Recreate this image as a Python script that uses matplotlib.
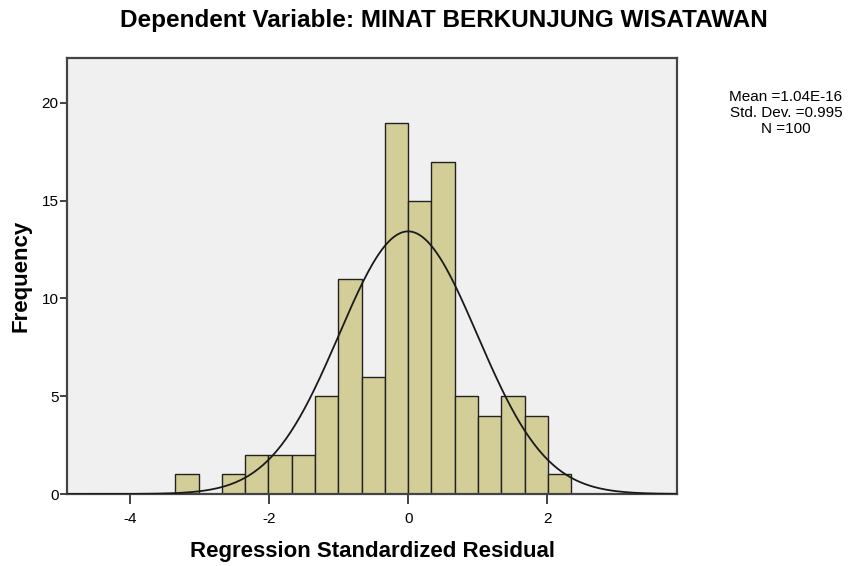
import numpy as np
import matplotlib
matplotlib.use("Agg")
import matplotlib.pyplot as plt

# frequency counts
bin_start = -3.35
bin_width = 0.335
counts = [1, 0, 1, 2, 2, 2, 5, 11, 6, 19, 15, 17, 5, 4, 5, 4, 1]
mean_val = 1.04e-16
std_val = 0.995
n_obs = 100
xticks = [-4, -2, 0, 2]
yticks = [0, 5, 10, 15, 20]

plt.rcParams['font.family'] = ['Liberation Sans', 'DejaVu Sans']
plt.rcParams['axes.unicode_minus'] = False

fig = plt.figure(figsize=(8.51, 5.66), dpi=100)
ax = fig.add_axes([67 / 851, 1 - 494 / 566, (677 - 67) / 851, (494 - 58) / 566])
ax.set_facecolor('#F0F0F0')

edges = bin_start + bin_width * np.arange(len(counts) + 1)
ax.bar(edges[:-1], counts, width=bin_width, align='edge',
       color='#D3CE97', edgecolor='#222222', linewidth=1.0, zorder=2)

# normal curve scaled to the histogram
xs = np.linspace(-4.95, 3.9, 400)
ys = n_obs * bin_width * np.exp(-0.5 * ((xs - mean_val) / std_val) ** 2) / (std_val * np.sqrt(2 * np.pi))
ax.plot(xs, ys, color='#1a1a1a', linewidth=1.3, zorder=3)

ax.set_xlim(-4.91, 3.87)
ax.set_ylim(0, 22.3)
ax.set_xticks(xticks)
ax.set_yticks(yticks)
ax.tick_params(axis='x', labelsize=11, color='#333333', length=7, width=1.3, pad=6)
ax.tick_params(axis='y', labelsize=11, color='#333333', length=5, width=1.3, pad=1)
for s in ax.spines.values():
    s.set_color('#444444')
    s.set_linewidth(1.6)

ax.set_xlabel('Regression Standardized Residual', fontsize=16, fontweight='bold', labelpad=11)
ax.set_ylabel('Frequency', fontsize=16, fontweight='bold', labelpad=7)

fig.text(444 / 851, 1 - 20 / 566, 'Dependent Variable: MINAT BERKUNJUNG WISATAWAN',
         ha='center', va='center', fontsize=17.5, fontweight='bold')
fig.text(786 / 851, 1 - 113 / 566,
         'Mean =1.04E-16\nStd. Dev. =0.995\nN =100',
         ha='center', va='center', fontsize=11, linespacing=1.15)

fig.savefig('out.png', dpi=100, facecolor='white')
